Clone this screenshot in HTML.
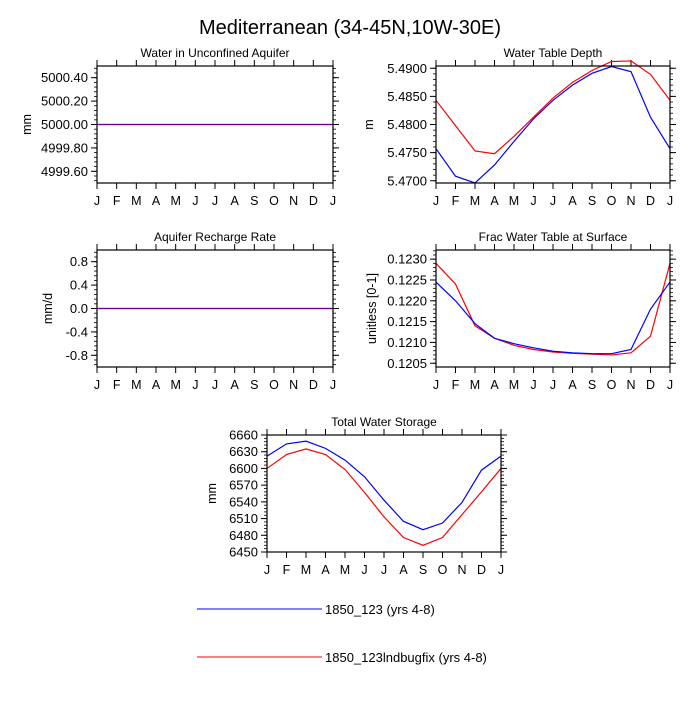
<!DOCTYPE html>
<html><head><meta charset="utf-8"><style>
body{margin:0;background:#fff;width:700px;height:700px;overflow:hidden}
svg{font-family:"Liberation Sans",sans-serif}
</style></head><body>
<svg id="c" width="700" height="700">
<text x="350" y="34" text-anchor="middle" font-size="20">Mediterranean (34-45N,10W-30E)</text>
</svg>
<script>
const months=["J","F","M","A","M","J","J","A","S","O","N","D","J"];
const wuaBlue=[5000,5000,5000,5000,5000,5000,5000,5000,5000,5000,5000,5000,5000];
const wuaRed=[5000,5000,5000,5000,5000,5000,5000,5000,5000,5000,5000,5000,5000];
const wtdBlue=[5.4757,5.4708,5.4696,5.4728,5.4770,5.4810,5.4843,5.4870,5.4891,5.4903,5.4894,5.4813,5.4757];
const wtdRed=[5.4843,5.4798,5.4753,5.4748,5.4779,5.4813,5.4847,5.4875,5.4896,5.4912,5.4913,5.4889,5.4843];
const rchBlue=[0,0,0,0,0,0,0,0,0,0,0,0,0];
const rchRed=[0,0,0,0,0,0,0,0,0,0,0,0,0];
const fwtBlue=[0.12245,0.1220,0.12145,0.1211,0.12097,0.12087,0.12079,0.12075,0.12073,0.12073,0.12083,0.1218,0.12245];
const fwtRed=[0.1229,0.1224,0.1214,0.1211,0.12093,0.12083,0.12077,0.12074,0.12072,0.12070,0.12075,0.12115,0.1229];
const twsBlue=[6622,6644,6649,6636,6615,6585,6543,6505,6490,6502,6539,6597,6622];
const twsRed=[6600,6625,6635,6625,6598,6557,6513,6476,6462,6476,6517,6558,6600];
const ticks1=[4999.6,4999.8,5000.0,5000.2,5000.4];
const ticks2=[5.47,5.475,5.48,5.485,5.49];
const ticks3=[-0.8,-0.4,0,0.4,0.8];
const ticks4=[0.1205,0.121,0.1215,0.122,0.1225,0.123];
const ticks5=[6450,6480,6510,6540,6570,6600,6630,6660];
const NS="http://www.w3.org/2000/svg";
const svg=document.getElementById('c');
function el(t,a,p){const e=document.createElementNS(NS,t);for(const k in a)e.setAttribute(k,a[k]);(p||svg).appendChild(e);return e;}
function panel(o){
 const g=el('g',{});
 
 
 const {x0,x1,y0,y1,ymin,ymax}=o;
 const sx=i=>x0+(x1-x0)*i/12, sy=v=>y1-(y1-y0)*(v-ymin)/(ymax-ymin);
 const tt=el('text',{x:(x0+x1)/2,y:y0-9,'text-anchor':'middle','font-size':12},g);tt.textContent=o.title;
 
 
 for(let i=0;i<=12;i++){const x=sx(i);
  el('line',{x1:x,x2:x,y1:y1,y2:y1+6,stroke:'#000'},g);el('line',{x1:x,x2:x,y1:y0,y2:y0-6,stroke:'#000'},g);
  const t=el('text',{x:x,y:y1+22,'text-anchor':'middle','font-size':12.5},g);t.textContent=months[i];
  
  }
 const tk=o.ticks, step=tk[1]-tk[0], ms=step/5;
 for(let v=tk[0]-5*ms;v<=ymax+1e-12;v+=ms){if(v<ymin-1e-12)continue;const y=sy(v);
  el('line',{x1:x0,x2:x0-3,y1:y,y2:y,stroke:'#000','stroke-width':0.8},g);el('line',{x1:x1,x2:x1+3,y1:y,y2:y,stroke:'#000','stroke-width':0.8},g);}
 tk.forEach(v=>{const y=sy(v);
  el('line',{x1:x0,x2:x0-6,y1:y,y2:y,stroke:'#000'},g);el('line',{x1:x1,x2:x1+6,y1:y,y2:y,stroke:'#000'},g);
  const t=el('text',{x:x0-9,y:y+4.5,'text-anchor':'end','font-size':13},g);t.textContent=v.toFixed(o.dec);
  
  });
 if(o.ylab){const t=el('text',{x:o.ylx,y:(y0+y1)/2,'text-anchor':'middle','font-size':12.5,transform:`rotate(-90 ${o.ylx} ${(y0+y1)/2})`},g);t.textContent=o.ylab;
  
  }
 [[o.r,'#ff0000','series-1850-123lndbugfix',1],[o.b,'#0000ff','series-1850-123',o.flat?0.6:1]].forEach(([d,c,n,op])=>{
  const p=el('polyline',{points:d.map((v,i)=>sx(i)+','+sy(v)).join(' '),fill:'none',stroke:c,'stroke-width':1.2,'stroke-opacity':op},g);
  
  });
 el('rect',{x:x0,y:y0,width:x1-x0,height:y1-y0,fill:'none',stroke:'#000','stroke-width':1.2},g);
}
panel({name:'panel-unconfined-aquifer',title:'Water in Unconfined Aquifer',x0:97,x1:333,y0:66,y1:183,ymin:4999.5,ymax:5000.5,ticks:ticks1,dec:2,ylab:'mm',ylx:31,b:wuaBlue,r:wuaRed,flat:true});
panel({name:'panel-water-table-depth',title:'Water Table Depth',x0:436,x1:670,y0:66,y1:183,ymin:5.4696,ymax:5.4904,ticks:ticks2,dec:4,ylab:'m',ylx:373,b:wtdBlue,r:wtdRed});
panel({name:'panel-recharge-rate',title:'Aquifer Recharge Rate',x0:97,x1:333,y0:250,y1:367,ymin:-1,ymax:1,ticks:ticks3,dec:1,ylab:'mm/d',ylx:52,b:rchBlue,r:rchRed,flat:true});
panel({name:'panel-frac-water-table',title:'Frac Water Table at Surface',x0:436,x1:670,y0:250,y1:367,ymin:0.12041,ymax:0.12322,ticks:ticks4,dec:4,ylab:'unitless [0-1]',ylx:376,b:fwtBlue,r:fwtRed});
panel({name:'panel-total-water-storage',title:'Total Water Storage',x0:267,x1:501,y0:435,y1:552,ymin:6450,ymax:6660,ticks:ticks5,dec:0,ylab:'mm',ylx:216,b:twsBlue,r:twsRed});
[[609,'#0000ff','1850_123 (yrs 4-8)','legend-entry-1850-123'],[657,'#ff0000','1850_123lndbugfix (yrs 4-8)','legend-entry-1850-123lndbugfix']].forEach(([y,c,s,n])=>{
 const g=el('g',{});
 
 
 el('line',{x1:197,x2:322,y1:y,y2:y,stroke:c,'stroke-width':1},g);
 const t=el('text',{x:325,y:y+5,'font-size':13},g);t.textContent=s;
});
</script>
</body></html>
